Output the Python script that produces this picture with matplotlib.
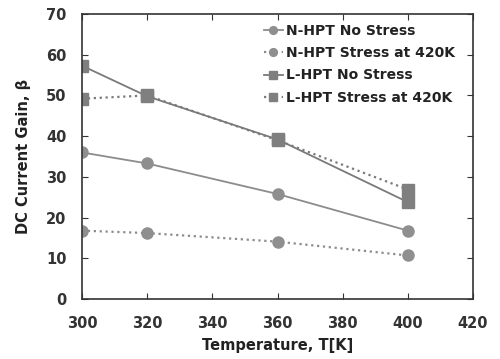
import matplotlib.pyplot as plt

temps = [300, 320, 360, 400]
n_no_stress = [36, 33.3, 25.8, 16.8]
n_stress = [16.8, 16.2, 14.1, 10.7]
l_no_stress = [57.3, 49.8, 39.2, 23.8]
l_stress = [49.2, 50.0, 39.0, 26.9]

labels = ['N-HPT No Stress', 'N-HPT Stress at 420K',
          'L-HPT No Stress', 'L-HPT Stress at 420K']

plt.rcParams['font.family'] = 'DejaVu Sans'
plt.rcParams['font.weight'] = 'bold'

fig = plt.figure(figsize=(5, 3.59), dpi=100)
ax = fig.add_axes([0.164, 0.167, 0.782, 0.794])

line_col = '#8c8c8c'
mark_col = '#8f8f8f'
ax.plot(temps, n_no_stress, '-', color=line_col, lw=1.3, marker='o',
        ms=8, mfc=mark_col, mec=mark_col, label=labels[0])
ax.plot(temps, n_stress, ':', color=line_col, lw=1.6, marker='o',
        ms=8, mfc=mark_col, mec=mark_col, label=labels[1])
ax.plot(temps, l_no_stress, '-', color='#7a7a7a', lw=1.3, marker='s',
        ms=8, mfc='#7f7f7f', mec='#7f7f7f', label=labels[2])
ax.plot(temps, l_stress, ':', color='#7a7a7a', lw=1.6, marker='s',
        ms=8, mfc='#7f7f7f', mec='#7f7f7f', label=labels[3])

ax.set_xlim(300, 420)
ax.set_ylim(0, 70)
ax.set_xticks(range(300, 421, 20))
ax.set_yticks(range(0, 71, 10))
ax.tick_params(direction='in', top=True, right=True, length=4,
               labelsize=10.5, colors='#333333')
ax.tick_params(axis='x', pad=12)
ax.tick_params(axis='y', pad=11)
for lab in ax.get_xticklabels() + ax.get_yticklabels():
    lab.set_fontweight('bold')
for s in ax.spines.values():
    s.set_color('#333333')
    s.set_linewidth(1.2)

ax.set_xlabel('Temperature, T[K]', fontsize=10.5, fontweight='bold',
              color='#222222', labelpad=5)
ax.set_ylabel('DC Current Gain, β', fontsize=10.5, fontweight='bold',
              color='#222222', labelpad=11)

leg = ax.legend(loc='upper left', bbox_to_anchor=(0.44, 1.0), frameon=False,
                fontsize=10, handlelength=1.4, handletextpad=0.2,
                labelspacing=0.6, borderaxespad=0.3, markerscale=0.7)
for t in leg.get_texts():
    t.set_fontweight('bold')
    t.set_color('#222222')

fig.savefig('out.png', dpi=100)
